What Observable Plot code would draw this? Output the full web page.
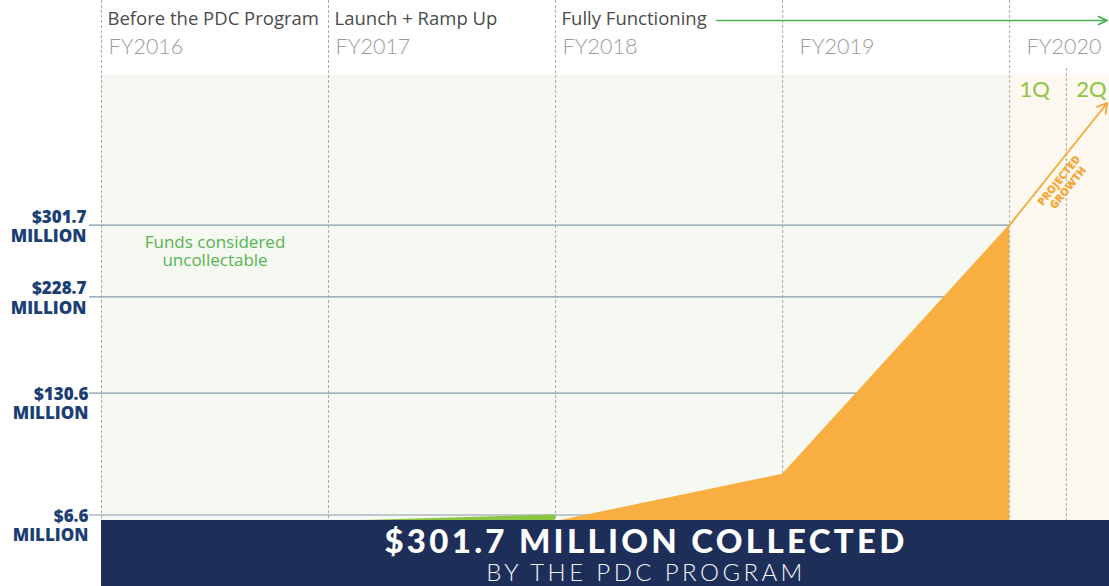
<!DOCTYPE html>
<html>
<head>
<meta charset="utf-8">
<script src="https://cdn.jsdelivr.net/npm/d3@7"></script>
<script src="https://cdn.jsdelivr.net/npm/@observablehq/plot@0.6"></script>
<style>
  html, body { margin: 0; padding: 0; background: #fff; }
  #wrap { position: relative; width: 1109px; height: 586px; overflow: hidden; }
  #banner {
    position: absolute; left: 101px; top: 520px; width: 1008px; height: 66px;
    background: #1d2e59; color: #fff; font-family: Lato, "Open Sans", sans-serif;
  }
  #banner .l1 {
    position: absolute; left: 82px; right: 0; top: 0px; text-align: center;
    font-size: 33px; font-weight: 900; letter-spacing: 3.3px; line-height: 40px;
  }
  #banner .l2 {
    position: absolute; left: 82px; right: 0; top: 38px; text-align: center;
    font-size: 24px; font-weight: 300; letter-spacing: 3.4px; line-height: 28px; color: #f2f4f8;
  }
</style>
</head>
<body>
<div id="wrap">
  <div id="chart"></div>
  <div id="banner">
    <div class="l1" id="bannerTitle"></div>
    <div class="l2" id="bannerSub"></div>
  </div>
</div>
<script>
// ---- data ----
const years = [2016, 2017, 2018, 2019, 2020];
const yearLabels = ["FY2016", "FY2017", "FY2018", "FY2019", "FY2020"];
const phaseStarts = [2016, 2017, 2018];
const phaseLabels = ["Before the PDC Program", "Launch + Ramp Up", "Fully Functioning"];
const quarterStarts = [2020, 2020.25];
const quarterLabels = ["1Q", "2Q"];
const tickValues = [6.6, 130.6, 228.7, 301.7];
const tickLabels = ["$6.6", "$130.6", "$228.7", "$301.7"];
const rampX = [2017, 2018];
const rampY = [0, 6.6];
const collectedX = [2018, 2019, 2020];
const collectedY = [0, 48, 301.7];
const projectedX = [2020, 2020.43];
const projectedY = [301.7, 426];
const xDomain = [2016, 2020.44];
const yDomain = [0, 454];
const regionStarts = [2016, 2020];
const regionEnds = [2020, 2020.44];
const regionFills = ["#f6f9f1", "#fdf8f0"];
const noteText = "Funds considered\nuncollectable";
const noteX = 2016.5;
const noteY = 275;
const bannerTitle = "$301.7 MILLION COLLECTED";
const bannerSub = "BY THE PDC PROGRAM";

// ---- tables ----
const regions = regionStarts.map((s, i) => ({start: s, end: regionEnds[i], fill: regionFills[i]}));
const ramp = rampX.map((x, i) => ({x, y: rampY[i]}));
const collected = collectedX.map((x, i) => ({x, y: collectedY[i]}));
const projection = [{x1: projectedX[0], y1: projectedY[0], x2: projectedX[1], y2: projectedY[1]}];
const phases = phaseStarts.map((x, i) => ({x, label: phaseLabels[i]}));
const fyA = years.slice(0, 3).map((x, i) => ({x, label: yearLabels[i]}));
const fyB = years.slice(3).map((x, i) => ({x, label: yearLabels[i + 3]}));
const quarters = quarterStarts.map((x, i) => ({x, label: quarterLabels[i]}));
const ticks = tickValues.map((v, i) => ({v, label: tickLabels[i] + "\nMILLION"}));
const ticksLow = ticks.slice(0, 2);
const ticksHigh = ticks.slice(2);
const projMidX = projectedX[0] + (projectedX[1] - projectedX[0]) * 0.45;
const projMidY = projectedY[0] + (projectedY[1] - projectedY[0]) * 0.45;

const navy = "#1b3f74";
const orange = "#f9ae42";

const chart = Plot.plot({
  width: 1109,
  height: 586,
  marginTop: 75,
  marginBottom: 65,
  marginLeft: 101,
  marginRight: 0,
  x: {domain: xDomain, axis: null},
  y: {domain: yDomain, axis: null},
  style: {fontFamily: "'Open Sans', sans-serif", overflow: "visible", background: "transparent"},
  marks: [
    Plot.rect(regions, {x1: "start", x2: "end", fill: "fill"}),
    Plot.ruleY(tickValues, {x1: 2016, x2: 2020, insetLeft: -12, stroke: "#8895ad", strokeWidth: 1.2}),
    Plot.ruleX(years, {insetTop: -75, stroke: "#a9a9a9", strokeWidth: 1, strokeDasharray: "3,2"}),
    Plot.ruleX(quarterStarts.slice(1), {insetTop: -7, stroke: "#a9a9a9", strokeWidth: 1, strokeDasharray: "3,2"}),
    Plot.areaY(ramp, {x: "x", y: "y", fill: "#8cc541"}),
    Plot.areaY(collected, {x: "x", y: "y", fill: orange}),
    Plot.arrow(projection, {x1: "x1", y1: "y1", x2: "x2", y2: "y2", stroke: "#f7a633", strokeWidth: 1.8, headLength: 9, headAngle: 60}),
    Plot.text([0], {x: projMidX, y: projMidY, text: () => "PROJECTED\nGROWTH", rotate: -51, dx: 10, dy: 14,
      fontSize: 11, fontWeight: 800, fill: "#f7a633", lineHeight: 1.05, letterSpacing: 0.4}),
    // header phase labels
    Plot.text(phases, {x: "x", text: "label", frameAnchor: "top", lineAnchor: "middle", textAnchor: "start", dx: 6, dy: -56,
      fontSize: 18.5, fill: "#4b4b4b", letterSpacing: 0.35}),
    Plot.text(fyA, {x: "x", text: "label", frameAnchor: "top", lineAnchor: "middle", textAnchor: "start", dx: 7, dy: -28,
      fontSize: 21.5, fontFamily: "Lato, sans-serif", fontWeight: 300, fill: "#9b9b9b", letterSpacing: 4.6}),
    Plot.text(fyB, {x: "x", text: "label", frameAnchor: "top", lineAnchor: "middle", textAnchor: "start", dx: 17, dy: -28,
      fontSize: 21.5, fontFamily: "Lato, sans-serif", fontWeight: 300, fill: "#9b9b9b", letterSpacing: 4.6}),
    Plot.arrow([0], {x1: 2018.71, x2: xDomain[1] - 0.01, y1: yDomain[1], y2: yDomain[1], dy: -55,
      stroke: "#4caf50", strokeWidth: 1.6, headLength: 9, headAngle: 50}),
    Plot.text(quarters, {x: "x", text: "label", frameAnchor: "top", lineAnchor: "middle", textAnchor: "start", dx: 10, dy: 14,
      fontSize: 22, fontFamily: "Lato, sans-serif", fontWeight: 400, fill: "#8cc541", letterSpacing: 4.5}),
    // note
    Plot.text([0], {x: noteX, y: noteY, text: () => noteText, fontSize: 17, fill: "#54b450", lineHeight: 1.08}),
    // y labels
    Plot.text(ticksHigh, {x: 2016, y: "v", text: "label", textAnchor: "end", dx: -15, dy: 1, lineHeight: 1.15,
      fontSize: 17, fontWeight: 800, fill: navy}),
    Plot.text(ticksLow, {x: 2016, y: "v", text: "label", textAnchor: "end", dx: -13, dy: 10, lineHeight: 1.15,
      fontSize: 17, fontWeight: 800, fill: navy})
  ]
});
document.getElementById("chart").appendChild(chart);
document.getElementById("bannerTitle").textContent = bannerTitle;
document.getElementById("bannerSub").textContent = bannerSub;
</script>
</body>
</html>
